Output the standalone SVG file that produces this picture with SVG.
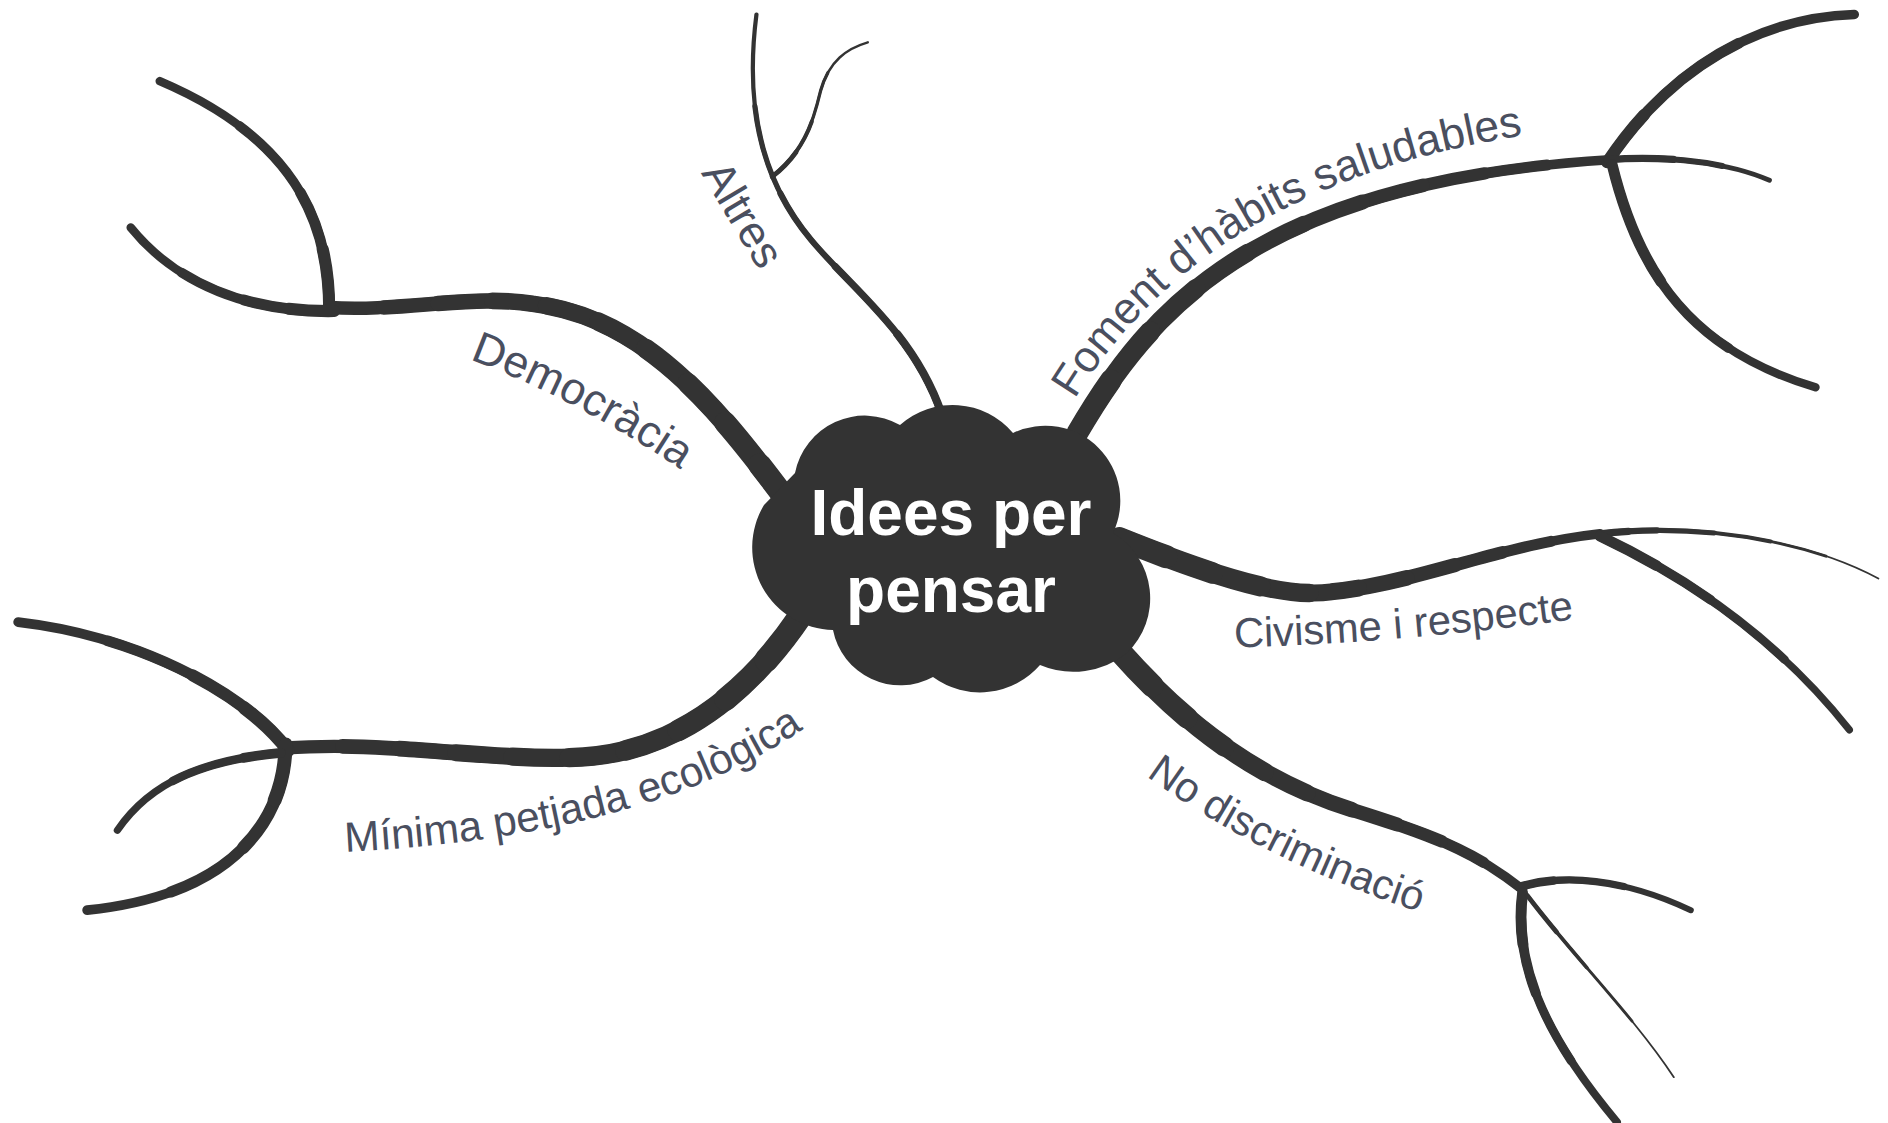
<svg xmlns="http://www.w3.org/2000/svg" xmlns:xlink="http://www.w3.org/1999/xlink" width="1888" height="1123" viewBox="0 0 1888 1123">
<style>
.b{fill:none;stroke:#333333;stroke-linecap:round;stroke-linejoin:round}
.k1{stroke-dasharray:90 300}
.k2{stroke-dasharray:80 300}
.k3{stroke-dasharray:70 300}
.k4{stroke-dasharray:60 300}
.k5{stroke-dasharray:50 300}
.k6{stroke-dasharray:40 300}
.k7{stroke-dasharray:30 300}
.k8{stroke-dasharray:20 300}
.k9{stroke-dasharray:10 300}
.lbl{font-family:"Liberation Sans",Arial,sans-serif;fill:#4a4f5f;font-size:34.5px}
.title{font-family:"Liberation Sans",Arial,sans-serif;font-weight:bold;fill:#ffffff;font-size:64px;text-anchor:middle}
</style>
<defs>
<path id="dem" pathLength="100" d="M 655,420 C 595,340 535,262 440,251 C 390,243 330,258 272,254"/>
<path id="dem-up" pathLength="100" d="M 272,256 C 272,185 245,115 132,67"/>
<path id="dem-low" pathLength="100" d="M 276,257 C 215,258 150,240 108,188"/>
<path id="alt" pathLength="100" d="M 778,342 C 755,275 705,240 670,198 C 630,150 615,90 625,12"/>
<path id="alt-sub" pathLength="100" d="M 638,146 C 665,125 672,100 678,75 C 685,50 700,40 717,35"/>
<path id="fom" pathLength="100" d="M 890,358 C 950,255 1040,150 1330,132"/>
<path id="fom-up" pathLength="100" d="M 1328,134 C 1370,70 1440,15 1532,12"/>
<path id="fom-right" pathLength="100" d="M 1328,132 C 1380,128 1430,135 1462,149"/>
<path id="fom-down" pathLength="100" d="M 1332,136 C 1355,230 1400,290 1500,320"/>
<path id="civ" pathLength="100" d="M 925,445 C 1000,475 1060,495 1100,489 C 1170,482 1240,450 1322,441"/>
<path id="civ-thin" pathLength="100" d="M 1322,441 C 1400,432 1490,445 1552,478"/>
<path id="civ-sub" pathLength="100" d="M 1322,443 C 1400,480 1470,530 1528,603"/>
<path id="nod" pathLength="100" d="M 925,538 C 980,600 1040,645 1120,670 C 1190,692 1220,705 1258,735"/>
<path id="nod-right" pathLength="100" d="M 1255,733 C 1290,722 1340,725 1397,752"/>
<path id="nod-down" pathLength="100" d="M 1258,738 C 1250,800 1280,860 1336,927"/>
<path id="nod-thin" pathLength="100" d="M 1262,740 C 1300,790 1350,840 1383,890"/>
<path id="min" pathLength="100" d="M 662,508 C 610,585 545,625 470,626 C 400,628 320,612 236,618"/>
<path id="min-up" pathLength="100" d="M 238,620 C 200,570 110,525 15,514"/>
<path id="min-down" pathLength="100" d="M 236,615 C 235,680 190,740 72,752"/>
<path id="min-short" pathLength="100" d="M 232,622 C 170,628 125,645 97,686"/>
<path id="lp-dem" d="M 388,297 Q 485,333 580,400"/>
<path id="lp-alt" d="M 579,143 L 643,250"/>
<path id="lp-fom" d="M 888,330 Q 1000,148 1272,110"/>
<path id="lp-civ" d="M 1020,535 Q 1160,531 1305,511"/>
<path id="lp-nod" d="M 947,641 Q 1050,716 1190,759"/>
<path id="lp-min" d="M 285,704 Q 536,691 664,602"/>
</defs>
<rect width="1888" height="1123" fill="#ffffff"/>
<g id="connectors" transform="scale(1.2103)">
<g class="b">
<use href="#dem" style="stroke-width:11"/>
<use href="#dem" class="k1" style="stroke-width:11.9"/>
<use href="#dem" class="k2" style="stroke-width:12.8"/>
<use href="#dem" class="k3" style="stroke-width:13.7"/>
<use href="#dem" class="k4" style="stroke-width:14.6"/>
<use href="#dem" class="k5" style="stroke-width:15.4"/>
<use href="#dem" class="k6" style="stroke-width:16.3"/>
<use href="#dem" class="k7" style="stroke-width:17.2"/>
<use href="#dem" class="k8" style="stroke-width:18.1"/>
<use href="#dem" class="k9" style="stroke-width:19"/>
<use href="#dem-up" style="stroke-width:7"/>
<use href="#dem-up" class="k3" style="stroke-width:8"/>
<use href="#dem-up" class="k6" style="stroke-width:9"/>
<use href="#dem-up" class="k8" style="stroke-width:10"/>
<use href="#dem-low" style="stroke-width:7"/>
<use href="#dem-low" class="k3" style="stroke-width:8"/>
<use href="#dem-low" class="k6" style="stroke-width:9"/>
<use href="#dem-low" class="k8" style="stroke-width:10"/>
<use href="#alt" style="stroke-width:3.5"/>
<use href="#alt" class="k2" style="stroke-width:4.3"/>
<use href="#alt" class="k4" style="stroke-width:5.1"/>
<use href="#alt" class="k6" style="stroke-width:5.9"/>
<use href="#alt" class="k8" style="stroke-width:6.7"/>
<use href="#alt-sub" style="stroke-width:2"/>
<use href="#alt-sub" class="k3" style="stroke-width:2.7"/>
<use href="#alt-sub" class="k6" style="stroke-width:3.4"/>
<use href="#alt-sub" class="k8" style="stroke-width:4"/>
<use href="#fom" style="stroke-width:8"/>
<use href="#fom" class="k1" style="stroke-width:9.1"/>
<use href="#fom" class="k2" style="stroke-width:10.2"/>
<use href="#fom" class="k3" style="stroke-width:11.3"/>
<use href="#fom" class="k4" style="stroke-width:12.4"/>
<use href="#fom" class="k5" style="stroke-width:13.6"/>
<use href="#fom" class="k6" style="stroke-width:14.7"/>
<use href="#fom" class="k7" style="stroke-width:15.8"/>
<use href="#fom" class="k8" style="stroke-width:16.9"/>
<use href="#fom" class="k9" style="stroke-width:18"/>
<use href="#fom-up" style="stroke-width:8"/>
<use href="#fom-up" class="k4" style="stroke-width:9"/>
<use href="#fom-up" class="k8" style="stroke-width:10"/>
<use href="#fom-right" style="stroke-width:4"/>
<use href="#fom-right" class="k3" style="stroke-width:5"/>
<use href="#fom-right" class="k6" style="stroke-width:6"/>
<use href="#fom-down" style="stroke-width:7"/>
<use href="#fom-down" class="k3" style="stroke-width:8"/>
<use href="#fom-down" class="k6" style="stroke-width:9"/>
<use href="#civ" style="stroke-width:8"/>
<use href="#civ" class="k1" style="stroke-width:9.2"/>
<use href="#civ" class="k2" style="stroke-width:10.4"/>
<use href="#civ" class="k3" style="stroke-width:11.7"/>
<use href="#civ" class="k4" style="stroke-width:12.9"/>
<use href="#civ" class="k5" style="stroke-width:14.1"/>
<use href="#civ" class="k6" style="stroke-width:15.3"/>
<use href="#civ" class="k7" style="stroke-width:16.6"/>
<use href="#civ" class="k8" style="stroke-width:17.8"/>
<use href="#civ" class="k9" style="stroke-width:19"/>
<use href="#civ-thin" style="stroke-width:1.5"/>
<use href="#civ-thin" class="k2" style="stroke-width:2.4"/>
<use href="#civ-thin" class="k4" style="stroke-width:3.3"/>
<use href="#civ-thin" class="k6" style="stroke-width:4.2"/>
<use href="#civ-thin" class="k8" style="stroke-width:5.1"/>
<use href="#civ-thin" class="k9" style="stroke-width:6"/>
<use href="#civ-sub" style="stroke-width:6"/>
<use href="#civ-sub" class="k3" style="stroke-width:7"/>
<use href="#civ-sub" class="k6" style="stroke-width:8"/>
<use href="#civ-sub" class="k8" style="stroke-width:9"/>
<use href="#nod" style="stroke-width:8"/>
<use href="#nod" class="k1" style="stroke-width:9.2"/>
<use href="#nod" class="k2" style="stroke-width:10.4"/>
<use href="#nod" class="k3" style="stroke-width:11.7"/>
<use href="#nod" class="k4" style="stroke-width:12.9"/>
<use href="#nod" class="k5" style="stroke-width:14.1"/>
<use href="#nod" class="k6" style="stroke-width:15.3"/>
<use href="#nod" class="k7" style="stroke-width:16.6"/>
<use href="#nod" class="k8" style="stroke-width:17.8"/>
<use href="#nod" class="k9" style="stroke-width:19"/>
<use href="#nod-right" style="stroke-width:5"/>
<use href="#nod-right" class="k4" style="stroke-width:6"/>
<use href="#nod-right" class="k8" style="stroke-width:7"/>
<use href="#nod-down" style="stroke-width:6.5"/>
<use href="#nod-down" class="k3" style="stroke-width:7.3"/>
<use href="#nod-down" class="k6" style="stroke-width:8.2"/>
<use href="#nod-down" class="k8" style="stroke-width:9"/>
<use href="#nod-thin" style="stroke-width:1.5"/>
<use href="#nod-thin" class="k3" style="stroke-width:2.3"/>
<use href="#nod-thin" class="k6" style="stroke-width:3.1"/>
<use href="#nod-thin" class="k8" style="stroke-width:4"/>
<use href="#min" style="stroke-width:11"/>
<use href="#min" class="k1" style="stroke-width:12"/>
<use href="#min" class="k2" style="stroke-width:13"/>
<use href="#min" class="k3" style="stroke-width:14"/>
<use href="#min" class="k4" style="stroke-width:15"/>
<use href="#min" class="k5" style="stroke-width:16"/>
<use href="#min" class="k6" style="stroke-width:17"/>
<use href="#min" class="k7" style="stroke-width:18"/>
<use href="#min" class="k8" style="stroke-width:19"/>
<use href="#min" class="k9" style="stroke-width:20"/>
<use href="#min-up" style="stroke-width:8"/>
<use href="#min-up" class="k3" style="stroke-width:9"/>
<use href="#min-up" class="k6" style="stroke-width:10"/>
<use href="#min-up" class="k8" style="stroke-width:11"/>
<use href="#min-down" style="stroke-width:8"/>
<use href="#min-down" class="k3" style="stroke-width:9.2"/>
<use href="#min-down" class="k6" style="stroke-width:10.4"/>
<use href="#min-down" class="k8" style="stroke-width:11.5"/>
<use href="#min-short" style="stroke-width:6"/>
<use href="#min-short" class="k4" style="stroke-width:7"/>
<use href="#min-short" class="k8" style="stroke-width:8"/>
</g>
</g>
<g id="node-center">
<path fill="#333333" d="M 795,473 A 71,71 0 0 1 900,425 A 79,79 0 0 1 1013,433 A 75,75 0 0 1 1113,533 A 76,76 0 0 1 1127,653 A 86,86 0 0 1 1040,665 A 79.5,79.5 0 0 1 933,677 A 68.5,68.5 0 0 1 833,630 A 82.5,82.5 0 0 1 764,505 Z"/>
<text class="title" x="951" y="535">Idees per</text>
<text class="title" x="951" y="612">pensar</text>
</g>
<g id="labels" transform="scale(1.2103)">
<g id="node-democracia"><text class="lbl" style="font-size:37px"><textPath href="#lp-dem">Democràcia</textPath></text></g>
<g id="node-altres"><text class="lbl" style="font-size:37px"><textPath href="#lp-alt">Altres</textPath></text></g>
<g id="node-foment"><text class="lbl" style="font-size:36.5px"><textPath href="#lp-fom">Foment d’hàbits saludables</textPath></text></g>
<g id="node-civisme"><text class="lbl"><textPath href="#lp-civ">Civisme i respecte</textPath></text></g>
<g id="node-nodiscriminacio"><text class="lbl"><textPath href="#lp-nod">No discriminació</textPath></text></g>
<g id="node-minima"><text class="lbl" style="font-size:35px"><textPath href="#lp-min">Mínima petjada ecològica</textPath></text></g>
</g>
</svg>
